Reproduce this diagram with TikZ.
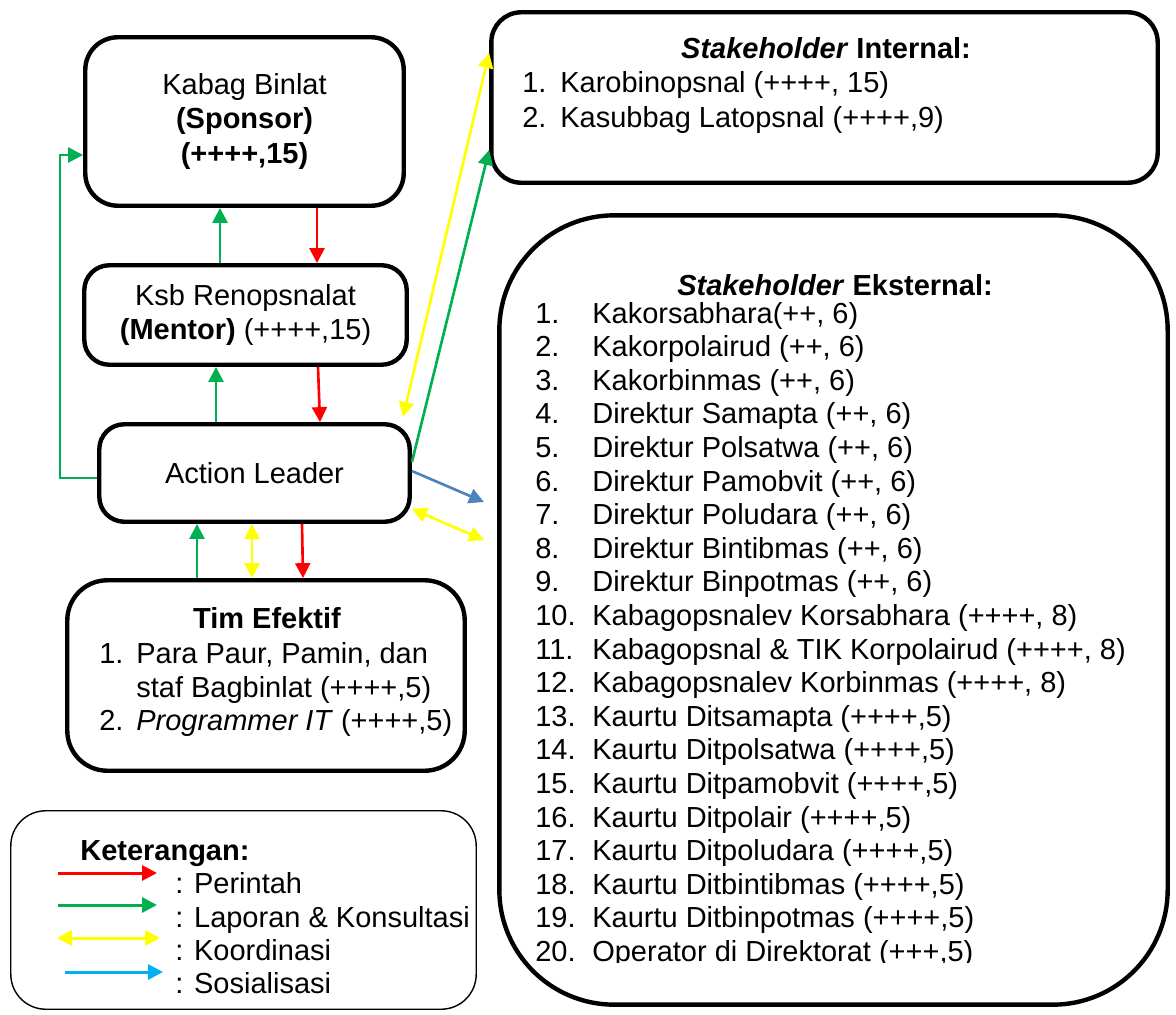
\documentclass[tikz,border=0pt]{standalone}
\usepackage{fontspec}
\setmainfont{Liberation Sans}
\usetikzlibrary{arrows.meta}
\usetikzlibrary{positioning}
\definecolor{merah}{HTML}{FF0000}
\definecolor{hijau}{HTML}{00B050}
\definecolor{kuning}{HTML}{FFFF00}
\definecolor{birutua}{HTML}{4F81BD}
\definecolor{birumuda}{HTML}{00B0F0}
\newcommand{\fs}{\fontsize{16.5pt}{19.8pt}\selectfont}
\newcommand{\numlbl}[2]{\makebox[#1][l]{#2}}
\tikzset{
  box/.style={draw=black,line width=2.5pt,rounded corners=#1,align=center,font=\fs,inner sep=0pt},
  box/.default=0.5cm,
  item/.style={font=\fs,anchor=base west,inner sep=0pt},
  conn/.style={line width=1.5pt,-{Triangle[length=8.5pt,width=8.5pt]}},
  perintah/.style={conn,merah},
  laporan/.style={conn,hijau},
  koordinasi/.style={conn,kuning,{Triangle[length=8.5pt,width=8.5pt]}-{Triangle[length=8.5pt,width=8.5pt]}},
  sosialisasi/.style={conn,birutua}
}

\begin{document}
\begin{tikzpicture}[x=0.02cm,y=-0.02cm]
\useasboundingbox (0,0) rectangle (1176,1014);

% kotak utama
\node[box=0.65cm,minimum width=6.37cm,minimum height=3.37cm] (sponsor) at (244.5,121.5) {Kabag Binlat\\\textbf{(Sponsor)}\\\textbf{(++++,15)}};
\node[box=0.5cm,minimum width=6.45cm,minimum height=1.99cm] (mentor) at (245.5,315) {Ksb Renopsnalat\\\textbf{(Mentor)} (++++,15)};
\node[box=0.5cm,minimum width=6.21cm,minimum height=1.95cm] (leader) at (254.5,473) {Action Leader};
\node[box=0.8cm,minimum width=7.95cm,minimum height=3.81cm] (tim) at (266,675.5) {};
\node[box=0.6cm,minimum width=13.33cm,minimum height=3.41cm] (internal) at (824.5,97.5) {};
\node[box=2.3cm,minimum width=13.37cm,minimum height=15.79cm] (eksternal) at (833.5,610) {};
\node[draw=black,line width=0.8pt,rounded corners=0.7cm,minimum width=9.31cm,minimum height=3.97cm] (legenda) at (243.5,910) {};

% tim efektif
\node[font=\fs\bfseries,anchor=base,inner sep=0pt] (timjudul) at (267,628) {Tim Efektif};
\node[item] (tim1) at (99,663) {\numlbl{0.74cm}{1.}Para Paur, Pamin, dan};
\node[item] (tim1b) at (136,697) {staf Bagbinlat (++++,5)};
\node[item] (tim2) at (99,730) {\numlbl{0.74cm}{2.}\textit{Programmer IT} (++++,5)};

% stakeholder internal
\node[font=\fs\bfseries,anchor=base,inner sep=0pt] (intjudul) at (826,58) {\textit{Stakeholder} Internal:};
\node[item] (int1) at (522,92) {\numlbl{0.76cm}{1.}Karobinopsnal (++++, 15)};
\node[item] (int2) at (522,127) {\numlbl{0.76cm}{2.}Kasubbag Latopsnal (++++,9)};

% stakeholder eksternal
\node[font=\fs\bfseries,anchor=base,inner sep=0pt] (ekjudul) at (835,295) {\textit{Stakeholder} Eksternal:};
\node[item] (e1) at (535,323) {\numlbl{1.14cm}{1.}Kakorsabhara(++, 6)};
\node[item] (e2) at (535,356.6) {\numlbl{1.14cm}{2.}Kakorpolairud (++, 6)};
\node[item] (e3) at (535,390.2) {\numlbl{1.14cm}{3.}Kakorbinmas (++, 6)};
\node[item] (e4) at (535,423.8) {\numlbl{1.14cm}{4.}Direktur Samapta (++, 6)};
\node[item] (e5) at (535,457.4) {\numlbl{1.14cm}{5.}Direktur Polsatwa (++, 6)};
\node[item] (e6) at (535,491) {\numlbl{1.14cm}{6.}Direktur Pamobvit (++, 6)};
\node[item] (e7) at (535,524.6) {\numlbl{1.14cm}{7.}Direktur Poludara (++, 6)};
\node[item] (e8) at (535,558.2) {\numlbl{1.14cm}{8.}Direktur Bintibmas (++, 6)};
\node[item] (e9) at (535,591.8) {\numlbl{1.14cm}{9.}Direktur Binpotmas (++, 6)};
\node[item] (e10) at (535,625.4) {\numlbl{1.14cm}{10.}Kabagopsnalev Korsabhara (++++, 8)};
\node[item] (e11) at (535,659) {\numlbl{1.14cm}{11.}Kabagopsnal \& TIK Korpolairud (++++, 8)};
\node[item] (e12) at (535,692.6) {\numlbl{1.14cm}{12.}Kabagopsnalev Korbinmas (++++, 8)};
\node[item] (e13) at (535,726.2) {\numlbl{1.14cm}{13.}Kaurtu Ditsamapta (++++,5)};
\node[item] (e14) at (535,759.8) {\numlbl{1.14cm}{14.}Kaurtu Ditpolsatwa (++++,5)};
\node[item] (e15) at (535,793.4) {\numlbl{1.14cm}{15.}Kaurtu Ditpamobvit (++++,5)};
\node[item] (e16) at (535,827) {\numlbl{1.14cm}{16.}Kaurtu Ditpolair (++++,5)};
\node[item] (e17) at (535,860.6) {\numlbl{1.14cm}{17.}Kaurtu Ditpoludara (++++,5)};
\node[item] (e18) at (535,894.2) {\numlbl{1.14cm}{18.}Kaurtu Ditbintibmas (++++,5)};
\node[item] (e19) at (535,927.8) {\numlbl{1.14cm}{19.}Kaurtu Ditbinpotmas (++++,5)};
\begin{scope}
\clip (500,940) rectangle (1160,962);
\node[item] (e20) at (535,961.4) {\numlbl{1.14cm}{20.}Operator di Direktorat (+++,5)};
\end{scope}

% keterangan
\node[item,font=\fs\bfseries] (ket) at (80,860) {Keterangan:};
\node[item] (lg1) at (175,893) {: Perintah};
\node[item] (lg2) at (175,927) {: Laporan \& Konsultasi};
\node[item] (lg3) at (175,960) {: Koordinasi};
\node[item] (lg4) at (175,993) {: Sosialisasi};
\draw[perintah,line width=1.7pt] (58,873) -- (157,873);
\draw[laporan,line width=1.7pt] (58,905) -- (157,905);
\draw[koordinasi,line width=1.7pt] (57,938) -- (160,938);
\draw[conn,birumuda,line width=1.7pt] (65,972) -- (163,972);

% titik ujung bebas
\coordinate (kordatas) at (403,417);
\coordinate (sosujung) at (484,502);
\coordinate (kordujung) at (484,540);

% panah
\draw[perintah] (sponsor.south -| 317,0) -- (mentor.north -| 317,0);
\draw[laporan] (mentor.north -| 220,0) -- (sponsor.south -| 220,0);
\draw[perintah] (mentor.south -| 318,0) -- (leader.north -| 320,0);
\draw[laporan] (leader.north -| 216,0) -- (mentor.south -| 216,0);
\draw[laporan] (tim.north -| 197,0) -- (leader.south -| 197,0);
\draw[koordinasi] (leader.south -| 252,0) -- (tim.north -| 252,0);
\draw[perintah] (leader.south -| 302,0) -- (tim.north -| 303,0);
\draw[laporan] (leader.west |- 0,478) -| (60,155) -- (sponsor.west |- 0,155);
\draw[laporan] (leader.east |- 0,462) -- (internal.west |- 0,150);
\draw[koordinasi] (internal.west |- 0,53) -- (kordatas);
\draw[sosialisasi] (leader.east |- 0,471) -- (sosujung);
\draw[koordinasi] (leader.east |- 0,509) -- (kordujung);

\end{tikzpicture}
\end{document}
